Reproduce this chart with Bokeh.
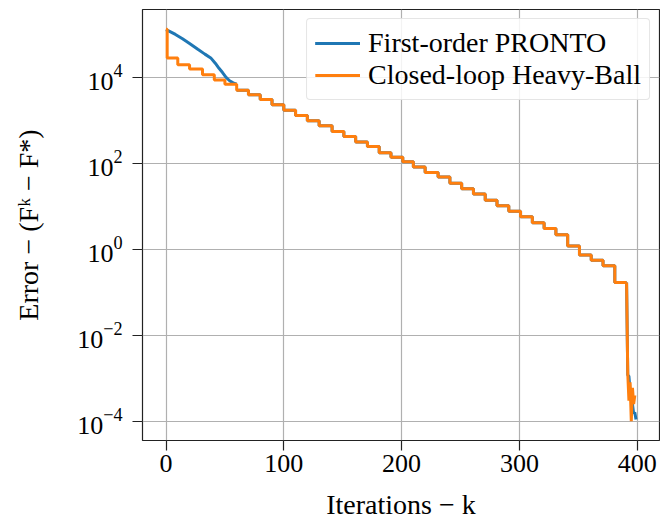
from bokeh.plotting import figure
from bokeh.models import Range1d, FixedTicker, LogTickFormatter, Legend, LegendItem
from bokeh.embed import file_html
from bokeh.resources import INLINE

# Closed-loop Heavy-Ball: plateau start iteration and error level of each plateau
hb_step_iter = [0, 1, 10, 20, 31, 41, 50, 60, 70, 80,
                90, 100, 110, 120, 130, 141, 151, 161, 171, 181,
                191, 201, 210, 220, 231, 241, 251, 261, 271, 281,
                291, 301, 311, 321, 331, 341, 351, 361, 371, 381,
                391]
hb_step_err = [1.35e5, 2.9e4, 2.0e4, 1.6e4, 1.17e4, 8.9e3, 7.1e3, 5.1e3, 4.0e3, 3.1e3,
               2.35e3, 1.75e3, 1.32e3, 1.0e3, 7.6e2, 5.6e2, 4.3e2, 3.2e2, 2.5e2, 1.8e2,
               1.4e2, 1.1e2, 83, 62, 49, 35, 26, 19.5, 14, 10.5,
               7.8, 5.8, 4.2, 3.1, 2.2, 1.2, 0.74, 0.56, 0.42, 0.17,
               0.17]
# Heavy-Ball final iterations (collapse to the optimum)
hb_tail_iter = [391, 392, 393, 394, 395, 396, 397, 398]
hb_tail_err = [0.17, 1.3e-3, 3e-4, 8e-4, 1.0e-4, 6e-4, 2.5e-4, 4e-4]

# First-order PRONTO: early iterations before it joins the Heavy-Ball plateaus
pr_head_iter = [0, 3, 8, 14, 20, 27, 33, 38, 42, 45, 48, 51, 54, 57, 60]
pr_head_err = [1.32e5, 1.2e5, 1.02e5, 8.1e4, 6.3e4, 4.6e4, 3.55e4, 2.9e4, 2.15e4,
               1.66e4, 1.32e4, 1.02e4, 8.5e3, 7.6e3, 7.1e3]
# PRONTO shares the plateaus from this iteration on
pr_join_iter = 60
# PRONTO final iterations
pr_tail_iter = [391, 392, 393, 394, 395, 396, 397, 398, 399]
pr_tail_err = [0.17, 1.2e-3, 1.1e-3, 5e-4, 3e-4, 2.5e-4, 1.5e-4, 1.6e-4, 1.1e-4]

x_ticks = [0, 100, 200, 300, 400]
y_ticks = [1e-4, 1e-2, 1e0, 1e2, 1e4]

BLUE = "#1f77b4"
ORANGE = "#ff7f0e"
FONT = "Liberation Serif"
GRID = "#b0b0b0"

p = figure(width=660, height=523, y_axis_type="log",
           x_range=Range1d(-19.95, 418.95),
           y_range=Range1d(10 ** -4.45, 10 ** 5.59),
           output_backend="svg", toolbar_location=None,
           min_border_left=142, min_border_right=1,
           min_border_top=9, min_border_bottom=83)

p.outline_line_color = "#222222"
p.outline_line_width = 1.2
p.background_fill_color = "white"
p.border_fill_color = "white"

LW = 3
j = hb_step_iter.index(pr_join_iter)

# PRONTO (drawn underneath)
b1 = p.line(pr_head_iter, pr_head_err, line_color=BLUE, line_width=LW)
b2 = p.step(hb_step_iter[j:], hb_step_err[j:], mode="after", line_color=BLUE, line_width=LW)
b3 = p.line(pr_tail_iter, pr_tail_err, line_color=BLUE, line_width=LW)

# Heavy-Ball on top
o1 = p.step(hb_step_iter, hb_step_err, mode="after", line_color=ORANGE, line_width=LW)
o2 = p.line(hb_tail_iter, hb_tail_err, line_color=ORANGE, line_width=LW)

# axes
p.xaxis.ticker = FixedTicker(ticks=x_ticks)
p.yaxis.ticker = FixedTicker(ticks=y_ticks)
p.yaxis.formatter = LogTickFormatter()
for ax in (p.xaxis[0], p.yaxis[0]):
    ax.major_label_text_font = FONT
    ax.major_label_text_font_size = "26px"
    ax.major_label_text_color = "black"
    ax.axis_label_text_font = FONT
    ax.axis_label_text_font_size = "28px"
    ax.axis_label_text_font_style = "normal"
    ax.axis_label_text_color = "black"
    ax.axis_line_color = None
    ax.major_tick_out = 10
    ax.major_tick_in = 0
    ax.major_tick_line_color = "#222222"
    ax.major_tick_line_width = 1.2
    ax.minor_tick_line_color = None

p.xaxis.axis_label = "Iterations − k"
p.yaxis.axis_label = "Error − (Fᵏ − F*)"
p.xaxis.major_label_standoff = 4
p.yaxis.major_label_standoff = 10
p.xaxis.axis_label_standoff = 14
p.yaxis.axis_label_standoff = 30

p.xgrid.ticker = FixedTicker(ticks=x_ticks)
p.ygrid.ticker = FixedTicker(ticks=y_ticks)
p.grid.grid_line_color = GRID
p.grid.grid_line_width = 1.2

legend = Legend(items=[
    LegendItem(label="First-order PRONTO", renderers=[b1, b2, b3]),
    LegendItem(label="Closed-loop Heavy-Ball", renderers=[o1, o2]),
], location="top_right")
legend.label_text_font = FONT
legend.label_text_font_size = "28px"
legend.label_text_color = "black"
legend.glyph_width = 45
legend.glyph_height = 22
legend.label_standoff = 8
legend.padding = 8
legend.spacing = 0
legend.margin = 9
legend.border_line_color = "#cccccc"
legend.border_line_width = 1.2
legend.border_radius = 4
legend.background_fill_alpha = 0.85
p.add_layout(legend)

open("out.html", "w").write(file_html(p, INLINE))
